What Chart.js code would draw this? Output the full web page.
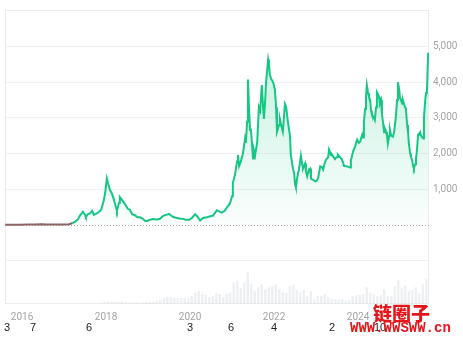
<!DOCTYPE html>
<html>
<head>
<meta charset="utf-8">
<script src="https://cdn.jsdelivr.net/npm/chart.js@4/dist/chart.umd.min.js"></script>
<style>
html,body{margin:0;padding:0;background:#fff;}
#wrap{position:relative;width:463px;height:338px;overflow:hidden;background:#fff;}
#c{position:absolute;left:0;top:0;}
.n{position:absolute;top:321px;line-height:14px;font:11px "Liberation Sans",Arial,sans-serif;color:#222;transform:translateX(-50%);white-space:nowrap;}
#wm1{position:absolute;left:373px;top:299px;line-height:20px;font:900 19px "Noto Sans CJK SC",sans-serif;color:#e3161c;white-space:nowrap;}
#wm2{position:absolute;left:350px;top:320px;line-height:16px;font:bold 14px "Liberation Mono",monospace;color:#e3161c;white-space:nowrap;}
</style>
</head>
<body>
<div id="wrap">
<canvas id="c" width="463" height="338"></canvas>
<div id="extra"></div>
<div id="wm1">链圈子</div>
<div id="wm2">WWW.WWSWW.cn</div>
</div>
<script>
// ---- data ----
const priceDates = [
2015.60,2015.75,2015.95,2016.15,2016.30,2016.45,2016.60,2016.80,2017.00,2017.12,
2017.19,2017.26,2017.33,2017.38,2017.45,2017.50,2017.52,2017.57,2017.62,2017.67,
2017.71,2017.76,2017.83,2017.88,2017.90,2017.95,2017.98,2018.02,2018.05,2018.10,
2018.14,2018.19,2018.24,2018.26,2018.31,2018.33,2018.38,2018.45,2018.52,2018.57,
2018.62,2018.69,2018.74,2018.81,2018.88,2018.93,2018.98,2019.05,2019.12,2019.21,
2019.29,2019.36,2019.43,2019.50,2019.55,2019.60,2019.67,2019.74,2019.83,2019.90,
2019.98,2020.05,2020.12,2020.17,2020.24,2020.31,2020.40,2020.48,2020.55,2020.64,
2020.69,2020.76,2020.83,2020.90,2020.95,2021.00,2021.02,2021.07,2021.12,2021.14,
2021.17,2021.21,2021.26,2021.31,2021.33,2021.36,2021.38,2021.40,2021.43,2021.45,
2021.50,2021.52,2021.55,2021.60,2021.64,2021.67,2021.71,2021.74,2021.76,2021.79,
2021.81,2021.86,2021.88,2021.90,2021.93,2021.98,2022.02,2022.05,2022.07,2022.12,
2022.14,2022.19,2022.21,2022.26,2022.29,2022.33,2022.38,2022.40,2022.45,2022.48,
2022.50,2022.52,2022.55,2022.60,2022.64,2022.67,2022.69,2022.74,2022.76,2022.79,
2022.83,2022.86,2022.88,2022.90,2022.95,2022.98,2023.02,2023.05,2023.10,2023.14,
2023.17,2023.21,2023.24,2023.29,2023.31,2023.36,2023.38,2023.43,2023.45,2023.50,
2023.52,2023.57,2023.62,2023.67,2023.74,2023.81,2023.83,2023.88,2023.93,2023.98,
2024.02,2024.05,2024.10,2024.12,2024.14,2024.17,2024.19,2024.21,2024.24,2024.26,
2024.29,2024.31,2024.33,2024.38,2024.40,2024.43,2024.45,2024.48,2024.50,2024.52,
2024.55,2024.57,2024.60,2024.62,2024.64,2024.67,2024.69,2024.71,2024.74,2024.76,
2024.79,2024.83,2024.86,2024.90,2024.93,2024.95,2024.98,2025.00,2025.02,2025.05,
2025.07,2025.12,2025.14,2025.17,2025.19,2025.21,2025.24,2025.26,2025.29,2025.31,
2025.33,2025.36,2025.38,2025.40,2025.43,2025.45,2025.48,2025.50,2025.52,2025.55,
2025.57,2025.60,2025.62,2025.64,2025.67
];
const priceValues = [
2.8,0.9,0.9,6,11,18,12,10,8,15,
45,80,150,260,370,280,220,300,320,390,
280,310,360,420,480,700,900,1300,1150,960,
880,700,480,390,620,780,700,580,450,420,
300,270,220,210,170,110,110,140,160,150,
170,250,280,310,260,220,200,180,170,140,
140,200,300,240,120,190,210,240,260,410,
380,340,400,520,600,800,1170,1400,1780,1960,
1650,1780,2000,2420,2300,2900,4080,3400,2660,2700,
1860,2100,1950,2330,3300,3200,3920,3300,2970,3500,
4000,4640,4500,4220,4100,4000,3800,3300,2610,2800,
2970,2700,2610,3390,3300,2890,2500,1970,1580,1450,
1140,1050,1310,1600,1940,1700,1580,1720,1500,1360,
1550,1580,1300,1280,1250,1220,1240,1310,1640,1620,
1550,1750,1830,1900,2110,1950,1970,1880,1860,1900,
1970,1900,1830,1650,1640,1610,1800,2050,2200,2390,
2300,2330,2530,2450,2900,3250,3600,3920,3700,3600,
3500,3200,3110,3000,2940,3300,3720,3650,3580,3400,
3500,3100,2830,2600,2700,2610,2500,2280,2500,2670,
2500,2470,2600,3030,3500,4000,3800,3550,3530,3400,
3500,3300,3250,2800,2610,2300,2000,1920,1800,1650,
1580,1700,1850,2050,2530,2550,2600,2500,2470,2420,
3000,3500,3700,3720,4830
];
// monthly trading volume (billions), starting July 2017
const volStartYear = 2017;
const volStartMonth = 7;
const volumes = [
1,1,1.6,1.2,2,4,
6,5,4,4,5,3,3,3,3,2,3,3,
4,5,6,8,12,14,14,12,12,12,12,12,
16,22,26,20,18,14,16,22,20,14,20,22,
44,48,32,44,64,40,26,34,40,30,34,36,
40,30,24,22,36,38,28,24,28,16,26,10,
16,16,20,14,10,10,8,10,6,8,16,18,
18,20,34,22,20,16,18,30,16,16,36,48,
32,38,26,28,34,22,40,50
];
const xTickYears = [2016, 2018, 2020, 2022, 2024];
const yTickValues = [1000, 2000, 3000, 4000, 5000];
const bottomNumbers = ['3','7','6','3','6','4','2','10'];
const bottomNumberX = [7, 33, 89, 190, 231, 274, 332, 380];

// ---- stray numbers row ----
const extra = document.getElementById('extra');
bottomNumbers.forEach((t, i) => {
  const d = document.createElement('div');
  d.className = 'n';
  d.style.left = bottomNumberX[i] + 'px';
  d.textContent = t;
  extra.appendChild(d);
});

// ---- chart ----
const GREEN = '#16c784';
const EARLY = '#8d6464';
const priceData = priceDates.map((d, i) => ({x: d, y: priceValues[i]}));
const volData = volumes.map((v, i) => ({x: volStartYear + (volStartMonth - 1 + i + 0.5) / 12, y: v}));

const framePlugin = {
  id: 'frame',
  beforeDatasetsDraw(chart) {
    const {ctx, chartArea: a, scales} = chart;
    ctx.save();
    ctx.strokeStyle = '#ececec';
    ctx.lineWidth = 1;
    ctx.strokeRect(a.left + 0.5, a.top + 0.5, a.right - a.left - 1, a.bottom - a.top - 1);
    const y0 = Math.round(scales.y.getPixelForValue(0)) + 0.5;
    ctx.strokeStyle = '#a8a8a8';
    ctx.setLineDash([1, 2]);
    ctx.beginPath();
    ctx.moveTo(a.left, y0);
    ctx.lineTo(a.right, y0);
    ctx.stroke();
    ctx.restore();
  }
};

new Chart(document.getElementById('c'), {
  type: 'line',
  data: {
    datasets: [
      {
        type: 'line',
        data: priceData,
        yAxisID: 'y',
        borderColor: GREEN,
        borderWidth: 2,
        pointRadius: 0,
        tension: 0,
        fill: 'origin',
        segment: {
          borderColor: c => (c.p1.parsed.x <= 2017.19 ? EARLY : GREEN)
        },
        backgroundColor: (c) => {
          const ch = c.chart;
          const a = ch.chartArea;
          if (!a) return 'rgba(22,199,132,0.1)';
          const y = ch.scales.y;
          const g = ch.ctx.createLinearGradient(0, y.getPixelForValue(4800), 0, y.getPixelForValue(0));
          g.addColorStop(0, 'rgba(22,199,132,0.24)');
          g.addColorStop(1, 'rgba(22,199,132,0.02)');
          return g;
        },
        order: 1
      },
      {
        type: 'bar',
        data: volData,
        yAxisID: 'yv',
        backgroundColor: 'rgba(222,228,233,0.55)',
        borderWidth: 0,
        barPercentage: 0.7,
        categoryPercentage: 1,
        order: 2
      }
    ]
  },
  options: {
    responsive: false,
    animation: false,
    devicePixelRatio: 1,
    layout: {padding: {left: 5, top: 7, right: 0, bottom: 0}},
    plugins: {legend: {display: false}, tooltip: {enabled: false}},
    scales: {
      x: {
        type: 'linear',
        min: 2015.595,
        max: 2025.69,
        offset: false,
        grid: {display: false, drawTicks: false, offset: false},
        border: {display: false},
        afterBuildTicks: s => { s.ticks = xTickYears.map(v => ({value: v})); },
        afterFit: s => { s.height = 34; },
        ticks: {
          callback: v => String(v),
          color: '#a3a3a3',
          font: {size: 10, family: 'Roboto'},
          padding: 7,
          maxRotation: 0,
          autoSkip: false
        }
      },
      y: {
        position: 'right',
        min: -2222,
        max: 6028,
        afterBuildTicks: s => { s.ticks = [-1000, 0].concat(yTickValues).map(v => ({value: v})); },
        afterFit: s => { s.width = 34; },
        grid: {
          color: c => (c.tick && c.tick.value === 0 ? 'rgba(0,0,0,0)' : '#f0f0f0'),
          drawTicks: false
        },
        border: {display: false},
        ticks: {
          callback: v => (v > 0 ? v.toLocaleString('en-US') : ''),
          color: '#a3a3a3',
          font: {size: 10, family: 'Roboto'},
          padding: 4
        }
      },
      yv: {
        display: false,
        min: 0,
        max: 594
      }
    }
  },
  plugins: [framePlugin]
});
</script>
</body>
</html>
